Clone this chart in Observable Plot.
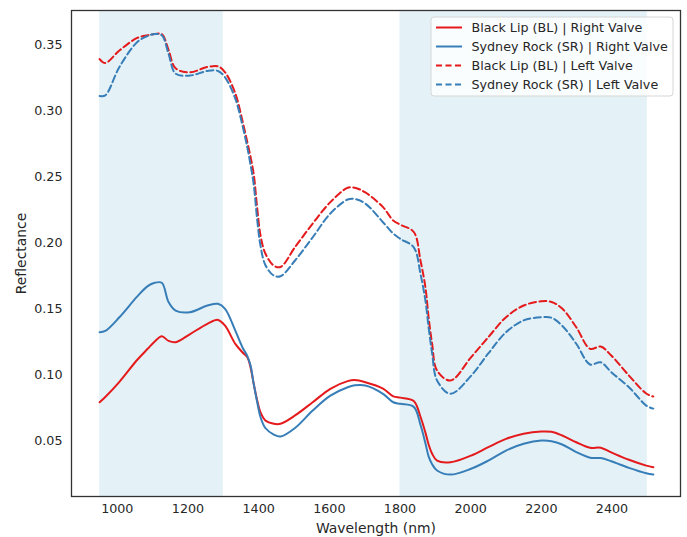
<!DOCTYPE html>
<html>
<head>
<meta charset="utf-8">
<script src="https://cdn.jsdelivr.net/npm/d3@7"></script>
<script src="https://cdn.jsdelivr.net/npm/@observablehq/plot@0.6"></script>
<style>
  html, body { margin: 0; padding: 0; background: #fff; }
  #chart { width: 687px; height: 537px; }
</style>
</head>
<body>
<div id="chart"></div>
<script>
const wavelengths = [950, 966, 1006, 1056, 1086, 1106, 1126, 1145, 1165, 1205, 1255, 1285, 1305, 1334, 1354, 1368, 1377, 1386, 1396, 1405, 1419, 1443, 1462, 1503, 1553, 1603, 1652, 1672, 1702, 1752, 1781, 1801, 1839, 1858, 1872, 1881, 1891, 1905, 1943, 2001, 2050, 2100, 2150, 2200, 2229, 2259, 2299, 2338, 2368, 2398, 2448, 2497, 2517];

const blRight = [0.079, 0.083, 0.0945, 0.111, 0.1195, 0.125, 0.129, 0.1255, 0.1245, 0.1305, 0.1384, 0.1414, 0.137, 0.1232, 0.1169, 0.1131, 0.1056, 0.093, 0.0803, 0.0715, 0.0652, 0.0627, 0.0627, 0.069, 0.079, 0.0892, 0.095, 0.0958, 0.0942, 0.0894, 0.0835, 0.0825, 0.080, 0.068, 0.056, 0.047, 0.040, 0.0348, 0.0336, 0.0386, 0.045, 0.0513, 0.0551, 0.0568, 0.0566, 0.0538, 0.0487, 0.0445, 0.0445, 0.041, 0.0354, 0.031, 0.0298];

const srRight = [0.132, 0.133, 0.1434, 0.159, 0.167, 0.1695, 0.1695, 0.155, 0.1485, 0.1472, 0.1523, 0.1536, 0.1498, 0.1333, 0.1207, 0.114, 0.107, 0.093, 0.079, 0.068, 0.0595, 0.0545, 0.053, 0.0595, 0.0727, 0.084, 0.0904, 0.0918, 0.0917, 0.0854, 0.079, 0.0778, 0.0755, 0.062, 0.048, 0.038, 0.032, 0.0273, 0.0242, 0.0286, 0.0348, 0.0424, 0.0475, 0.050, 0.0495, 0.047, 0.0412, 0.037, 0.0367, 0.0343, 0.0293, 0.0252, 0.0242];

const blLeft = [0.339, 0.336, 0.3455, 0.355, 0.357, 0.358, 0.358, 0.346, 0.332, 0.329, 0.333, 0.3335, 0.329, 0.313, 0.2924, 0.276, 0.265, 0.252, 0.226, 0.206, 0.1917, 0.1825, 0.1815, 0.1965, 0.2144, 0.2306, 0.2415, 0.2415, 0.238, 0.2268, 0.2167, 0.2135, 0.208, 0.1864, 0.166, 0.1434, 0.1233, 0.103, 0.0955, 0.113, 0.1283, 0.1434, 0.1523, 0.1555, 0.155, 0.150, 0.1358, 0.1195, 0.1212, 0.1144, 0.0992, 0.0856, 0.0833];

const srLeft = [0.311, 0.3115, 0.333, 0.3518, 0.3565, 0.358, 0.357, 0.343, 0.328, 0.3265, 0.330, 0.330, 0.3252, 0.309, 0.289, 0.272, 0.259, 0.244, 0.217, 0.198, 0.183, 0.175, 0.1745, 0.1864, 0.204, 0.222, 0.2326, 0.233, 0.2295, 0.2154, 0.2068, 0.2028, 0.1964, 0.1763, 0.156, 0.1358, 0.116, 0.0955, 0.0854, 0.099, 0.116, 0.132, 0.141, 0.1434, 0.143, 0.137, 0.1233, 0.1076, 0.1093, 0.1018, 0.0904, 0.0765, 0.0742];

const seriesNames = ["Black Lip (BL) | Right Valve", "Sydney Rock (SR) | Right Valve", "Black Lip (BL) | Left Valve", "Sydney Rock (SR) | Left Valve"];
const seriesColors = ["#e41a1c", "#377eb8", "#e41a1c", "#377eb8"];
const seriesDashed = [false, false, true, true];
const seriesValues = [blRight, srRight, blLeft, srLeft];

const bandStarts = [950, 1800];
const bandEnds = [1300, 2500];

const xTicks = [1000, 1200, 1400, 1600, 1800, 2000, 2200, 2400];
const yTicks = [0.05, 0.10, 0.15, 0.20, 0.25, 0.30, 0.35];

const bands = bandStarts.map((s, i) => ({start: s, end: bandEnds[i]}));
const seriesData = seriesNames.map((name, i) =>
  wavelengths.map((w, j) => ({wl: w, r: seriesValues[i][j], series: name})));

const textColor = "#262626";
const font = "DejaVu Sans, sans-serif";
const tickFont = 12.7;
const labelFont = 13.9;

const lineMarks = seriesData.map((d, i) => Plot.line(d, {
  x: "wl", y: "r",
  stroke: seriesColors[i],
  strokeWidth: 2,
  strokeDasharray: seriesDashed[i] ? "7,3.5" : null,
  curve: "catmull-rom"
}));

const chart = Plot.plot({
  width: 687,
  height: 537,
  marginLeft: 71,
  marginRight: 7,
  marginTop: 10,
  marginBottom: 41,
  style: {fontFamily: font, fontSize: tickFont + "px", color: textColor, background: "#fff"},
  x: {domain: [870.4, 2593.9]},
  y: {domain: [0.0076, 0.3758]},
  marks: [
    Plot.rect(bands, {x1: "start", x2: "end", fill: "lightblue", fillOpacity: 0.33}),
    ...lineMarks,
    Plot.axisX({ticks: xTicks, tickSize: 0, tickPadding: 7, tickFormat: d3.format("d"),
      label: null, fontSize: tickFont}),
    Plot.axisX({ticks: xTicks, tickSize: 0, tickFormat: () => "",
      label: "Wavelength (nm)", labelAnchor: "center", labelArrow: "none", labelOffset: 36, fontSize: labelFont}),
    Plot.axisY({ticks: yTicks, tickSize: 0, tickPadding: 9, tickFormat: d3.format(".2f"),
      label: null, fontSize: tickFont}),
    Plot.axisY({ticks: yTicks, tickSize: 0, tickFormat: () => "",
      label: "Reflectance", labelAnchor: "center", labelArrow: "none", labelOffset: 55, fontSize: labelFont}),
    Plot.frame({stroke: "#333", strokeWidth: 1.3})
  ]
});

document.getElementById("chart").appendChild(chart);

// legend (upper right, inside the frame)
const svg = d3.select(chart);
const lg = svg.append("g")
  .attr("font-family", font).attr("font-size", tickFont + "px").attr("text-anchor", "start");
lg.append("rect")
  .attr("x", 431).attr("y", 17).attr("width", 242).attr("height", 79)
  .attr("rx", 3).attr("fill", "#fff").attr("fill-opacity", 0.8)
  .attr("stroke", "#d6d6d6").attr("stroke-width", 1);
seriesNames.forEach((name, i) => {
  const yy = 27.5 + i * 19;
  lg.append("line")
    .attr("x1", 436).attr("x2", 462).attr("y1", yy).attr("y2", yy)
    .attr("stroke", seriesColors[i]).attr("stroke-width", 2)
    .attr("stroke-dasharray", seriesDashed[i] ? "6,3.5" : null);
  lg.append("text")
    .attr("x", 471.5).attr("y", yy).attr("dy", "0.35em")
    .attr("text-anchor", "start")
    .attr("fill", textColor).text(name);
});
</script>
</body>
</html>
